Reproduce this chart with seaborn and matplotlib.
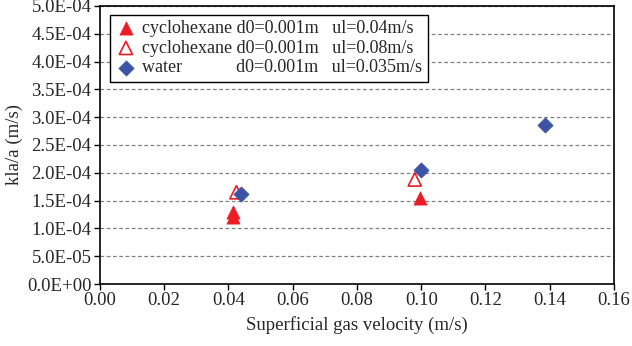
import numpy as np
import pandas as pd
import matplotlib
matplotlib.use("Agg")
import matplotlib.pyplot as plt
import seaborn as sns
from matplotlib.ticker import FuncFormatter, MultipleLocator

# data
cyc04_ug = [0.0415, 0.0415, 0.0995]
cyc04_kla = [1.29e-4, 1.20e-4, 1.55e-4]
cyc08_ug = [0.0425, 0.098]
cyc08_kla = [1.65e-4, 1.88e-4]
water_ug = [0.044, 0.100, 0.1385]
water_kla = [1.62e-4, 2.05e-4, 2.86e-4]

labels = [
    "cyclohexane d0=0.001m   ul=0.04m/s",
    "cyclohexane d0=0.001m   ul=0.08m/s",
    "water            d0=0.001m   ul=0.035m/s",
]

sns.set_style("white")
plt.rcParams["font.family"] = ["Liberation Serif", "DejaVu Serif"]
plt.rcParams["font.size"] = 13.5

fig, ax = plt.subplots(figsize=(6.32, 3.46), dpi=100)
fig.subplots_adjust(left=0.158, right=0.9715, top=0.983, bottom=0.179)

red = "#ec1c24"
blue = "#3a53a4"

sns.scatterplot(x=cyc04_ug, y=cyc04_kla, ax=ax, marker="^", s=90, color=red,
                edgecolor=red, linewidth=0.5, label=labels[0], zorder=3)
sns.scatterplot(x=cyc08_ug, y=cyc08_kla, ax=ax, marker="^", s=90, facecolor="none",
                edgecolor=red, linewidth=1.2, label=labels[1], zorder=3)
sns.scatterplot(x=water_ug, y=water_kla, ax=ax, marker="D", s=60, color=blue,
                edgecolor=blue, linewidth=0.5, label=labels[2], zorder=4)

ax.set_xlim(0, 0.16)
ax.set_ylim(0, 5e-4)
ax.xaxis.set_major_locator(MultipleLocator(0.02))
ax.yaxis.set_major_locator(MultipleLocator(5e-5))
ax.xaxis.set_major_formatter(FuncFormatter(lambda v, p: f"{v:.2f}"))
ax.yaxis.set_major_formatter(FuncFormatter(lambda v, p: f"{v:.1E}"))

ax.yaxis.grid(True, linestyle=(0, (3, 2)), color="#808080", linewidth=0.9)
ax.set_axisbelow(True)
for sp in ax.spines.values():
    sp.set_color("black")
    sp.set_linewidth(1.2)
ax.tick_params(axis="both", direction="out", length=4, width=1, color="black",
               labelsize=13.5, pad=2, left=True, bottom=True)

ax.set_xlabel("Superficial gas velocity (m/s)", fontsize=13.5, labelpad=5)
ax.set_ylabel("kla/a (m/s)", fontsize=13.5, labelpad=3)

leg = ax.legend(loc="upper left", bbox_to_anchor=(0.012, 0.982), frameon=True,
                fancybox=False, framealpha=1, edgecolor="black", fontsize=13,
                handletextpad=0.3, borderpad=0.3, labelspacing=0.15,
                handlelength=1.2, borderaxespad=0.2)
leg.get_frame().set_linewidth(1.0)
leg.set_zorder(5)

fig.savefig("out.png", dpi=100)
